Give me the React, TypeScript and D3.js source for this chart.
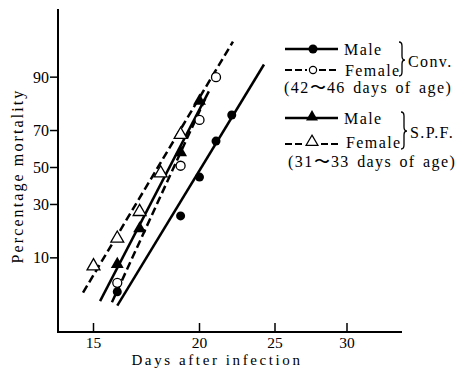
import * as d3 from "d3";

// tick values
const xTicks = [15, 20, 25, 30];
const yTicks = [10, 30, 50, 70, 90];

// observed points (days after infection, % mortality)
const maleConvDays = [16, 19, 20, 21, 22];
const maleConvMort = [3.9, 24.6, 44.6, 64.6, 77.2];
const femaleConvDays = [16, 19, 20, 21];
const femaleConvMort = [5.1, 51, 75, 90];
const maleSpfDays = [16, 17, 19, 20];
const maleSpfMort = [8.5, 19.3, 58.4, 82.7];
const femaleSpfDays = [15, 16, 17, 18, 19];
const femaleSpfMort = [8.1, 15.7, 26.5, 46.8, 67.9];

// fitted lines (end points)
const maleConvFitDays = [16.0, 24.2];
const maleConvFitMort = [2.5, 92.8];
const femaleConvFitDays = [15.77, 20.41];
const femaleConvFitMort = [2.8, 84.4];
const maleSpfFitDays = [15.27, 20.56];
const maleSpfFitMort = [2.9, 86];
const femaleSpfFitDays = [14.58, 22.08];
const femaleSpfFitMort = [3.8, 96.3];

const font = "Liberation Serif, Times New Roman, serif";

// inverse normal CDF (Acklam)
function probit(p: number) {
  const a = [-39.69683028665376, 220.9460984245205, -275.9285104469687, 138.357751867269, -30.66479806614716, 2.506628277459239];
  const b = [-54.47609879822406, 161.5858368580409, -155.6989798598866, 66.80131188771972, -13.28068155288572];
  const c = [-0.007784894002430293, -0.3223964580411365, -2.400758277161838, -2.549732539343734, 4.374664141464968, 2.938163982698783];
  const d = [0.007784695709041462, 0.3224671290700398, 2.445134137142996, 3.754408661907416];
  const pl = 0.02425;
  if (p < pl) {
    const q = Math.sqrt(-2 * Math.log(p));
    return (((((c[0] * q + c[1]) * q + c[2]) * q + c[3]) * q + c[4]) * q + c[5]) /
      ((((d[0] * q + d[1]) * q + d[2]) * q + d[3]) * q + 1);
  }
  if (p > 1 - pl) {
    const q = Math.sqrt(-2 * Math.log(1 - p));
    return -(((((c[0] * q + c[1]) * q + c[2]) * q + c[3]) * q + c[4]) * q + c[5]) /
      ((((d[0] * q + d[1]) * q + d[2]) * q + d[3]) * q + 1);
  }
  const q = p - 0.5;
  const r = q * q;
  return (((((a[0] * r + a[1]) * r + a[2]) * r + a[3]) * r + a[4]) * r + a[5]) * q /
    (((((b[0] * r + b[1]) * r + b[2]) * r + b[3]) * r + b[4]) * r + 1);
}

const zip = (xs: number[], ys: number[]) => xs.map((v, i) => [v, ys[i]] as [number, number]);

export default function App() {
  const width = 469;
  const height = 368;
  const axisX = 58;
  const axisY = 332;
  const axisTop = 9;
  const axisRight = 402;

  // log-day axis (hand drawn ticks, so piecewise)
  const x = d3.scaleLog().domain([15, 20, 25, 30]).range([93.5, 199.5, 275, 347]);
  const z = d3.scaleLinear().domain([-1, 1]).range([167.5 + 70.5, 167.5 - 70.5]);
  const y = (p: number) => z(probit(p / 100));

  const line = d3
    .line<[number, number]>()
    .x((d) => x(d[0]))
    .y((d) => y(d[1]));

  const tri = d3.symbol().type(d3.symbolTriangle).size(72)() as string;
  const triSmall = d3.symbol().type(d3.symbolTriangle).size(62)() as string;

  const brace = (x0: number, y0: number, y1: number, ym: number, w = 6) => {
    const h = w / 2;
    return `M${x0},${y0} Q${x0 + h},${y0} ${x0 + h},${y0 + 4} L${x0 + h},${ym - 4} Q${x0 + h},${ym} ${x0 + w},${ym} Q${x0 + h},${ym} ${x0 + h},${ym + 4} L${x0 + h},${y1 - 4} Q${x0 + h},${y1} ${x0},${y1}`;
  };

  const legendText = { fontFamily: font, fontSize: 16, letterSpacing: 1.4 };

  return (
    <svg
      width={width}
      height={height}
      fontFamily={font}
      style={{ position: "absolute", left: 0, top: 0, background: "#fff" }}
    >
      {/* axes */}
      <line x1={axisX} x2={axisX} y1={axisTop} y2={axisY} stroke="#000" strokeWidth={2} />
      <line x1={axisX - 1} x2={axisRight} y1={axisY} y2={axisY} stroke="#000" strokeWidth={2} />
      {xTicks.map((t) => (
        <g key={t} transform={`translate(${x(t)},${axisY})`}>
          <line y1={0} y2={-9} stroke="#000" strokeWidth={1.5} />
          <text y={16} textAnchor="middle" fontFamily={font} fontSize={15.5}>
            {t}
          </text>
        </g>
      ))}
      {yTicks.map((t) => (
        <g key={t} transform={`translate(${axisX},${y(t)})`}>
          <line x1={0} x2={-8} stroke="#000" strokeWidth={1.5} />
          <text x={-9} dy="0.34em" textAnchor="end" fontFamily={font} fontSize={16}>
            {t}
          </text>
        </g>
      ))}
      <text
        transform="translate(23,176) rotate(-90)"
        textAnchor="middle"
        fontFamily={font}
        fontSize={16}
        letterSpacing={2.1}
      >
        Percentage mortality
      </text>
      <text x={217} y={365} textAnchor="middle" fontFamily={font} fontSize={15} letterSpacing={2.6}>
        Days after infection
      </text>

      {/* fitted lines */}
      <path d={line(zip(maleConvFitDays, maleConvFitMort)) ?? ""} stroke="#000" strokeWidth={2.5} fill="none" />
      <path d={line(zip(maleSpfFitDays, maleSpfFitMort)) ?? ""} stroke="#000" strokeWidth={2.5} fill="none" />
      <path d={line(zip(femaleConvFitDays, femaleConvFitMort)) ?? ""} stroke="#000" strokeWidth={2.5} strokeDasharray="8,4" fill="none" />
      <path d={line(zip(femaleSpfFitDays, femaleSpfFitMort)) ?? ""} stroke="#000" strokeWidth={2.5} strokeDasharray="8,4" fill="none" />

      {/* points */}
      {zip(maleConvDays, maleConvMort).map((d, i) => (
        <circle key={`mc${i}`} cx={x(d[0])} cy={y(d[1])} r={4.5} fill="#000" />
      ))}
      {zip(femaleConvDays, femaleConvMort).map((d, i) => (
        <circle key={`fc${i}`} cx={x(d[0])} cy={y(d[1])} r={4.5} fill="#fff" stroke="#000" strokeWidth={1.3} />
      ))}
      {zip(maleSpfDays, maleSpfMort).map((d, i) => (
        <path key={`ms${i}`} d={tri} transform={`translate(${x(d[0])},${y(d[1])})`} fill="#000" />
      ))}
      {zip(femaleSpfDays, femaleSpfMort).map((d, i) => (
        <path key={`fs${i}`} d={tri} transform={`translate(${x(d[0])},${y(d[1])})`} fill="#fff" stroke="#000" strokeWidth={1.3} />
      ))}

      {/* legend */}
      <g>
        <line x1={285} x2={338} y1={49} y2={49} stroke="#000" strokeWidth={2.5} />
        <circle cx={313} cy={49} r={4.5} fill="#000" />
        <text x={344} y={55} style={legendText}>Male</text>

        <line x1={285} x2={307} y1={70} y2={70} stroke="#000" strokeWidth={2} strokeDasharray="7,3" />
        <line x1={319} x2={338} y1={70} y2={70} stroke="#000" strokeWidth={2} strokeDasharray="7,3" />
        <circle cx={313} cy={70} r={3.6} fill="#fff" stroke="#000" strokeWidth={1.2} />
        <text x={345} y={76} style={legendText}>Female</text>

        <path d={brace(399, 42, 76, 60)} fill="none" stroke="#000" strokeWidth={1.3} />
        <text x={408} y={67} style={legendText}>Conv.</text>
        <text x={284} y={93} style={{ ...legendText, wordSpacing: 2 }}>(42〜46 days of age)</text>

        <line x1={285} x2={338} y1={118} y2={118} stroke="#000" strokeWidth={2.5} />
        <path d={triSmall} transform="translate(312,117)" fill="#000" />
        <text x={344} y={124} style={legendText}>Male</text>

        <line x1={285} x2={304} y1={144} y2={144} stroke="#000" strokeWidth={2} strokeDasharray="7,3" />
        <line x1={321} x2={338} y1={144} y2={144} stroke="#000" strokeWidth={2} strokeDasharray="7,3" />
        <path d={triSmall} transform="translate(312,142)" fill="#fff" stroke="#000" strokeWidth={1.2} />
        <text x={346} y={148} style={legendText}>Female</text>

        <path d={brace(401, 112, 149, 131)} fill="none" stroke="#000" strokeWidth={1.3} />
        <text x={410} y={138} style={legendText}>S.P.F.</text>
        <text x={288} y={167} style={{ ...legendText, wordSpacing: 2 }}>(31〜33 days of age)</text>
      </g>
    </svg>
  );
}
